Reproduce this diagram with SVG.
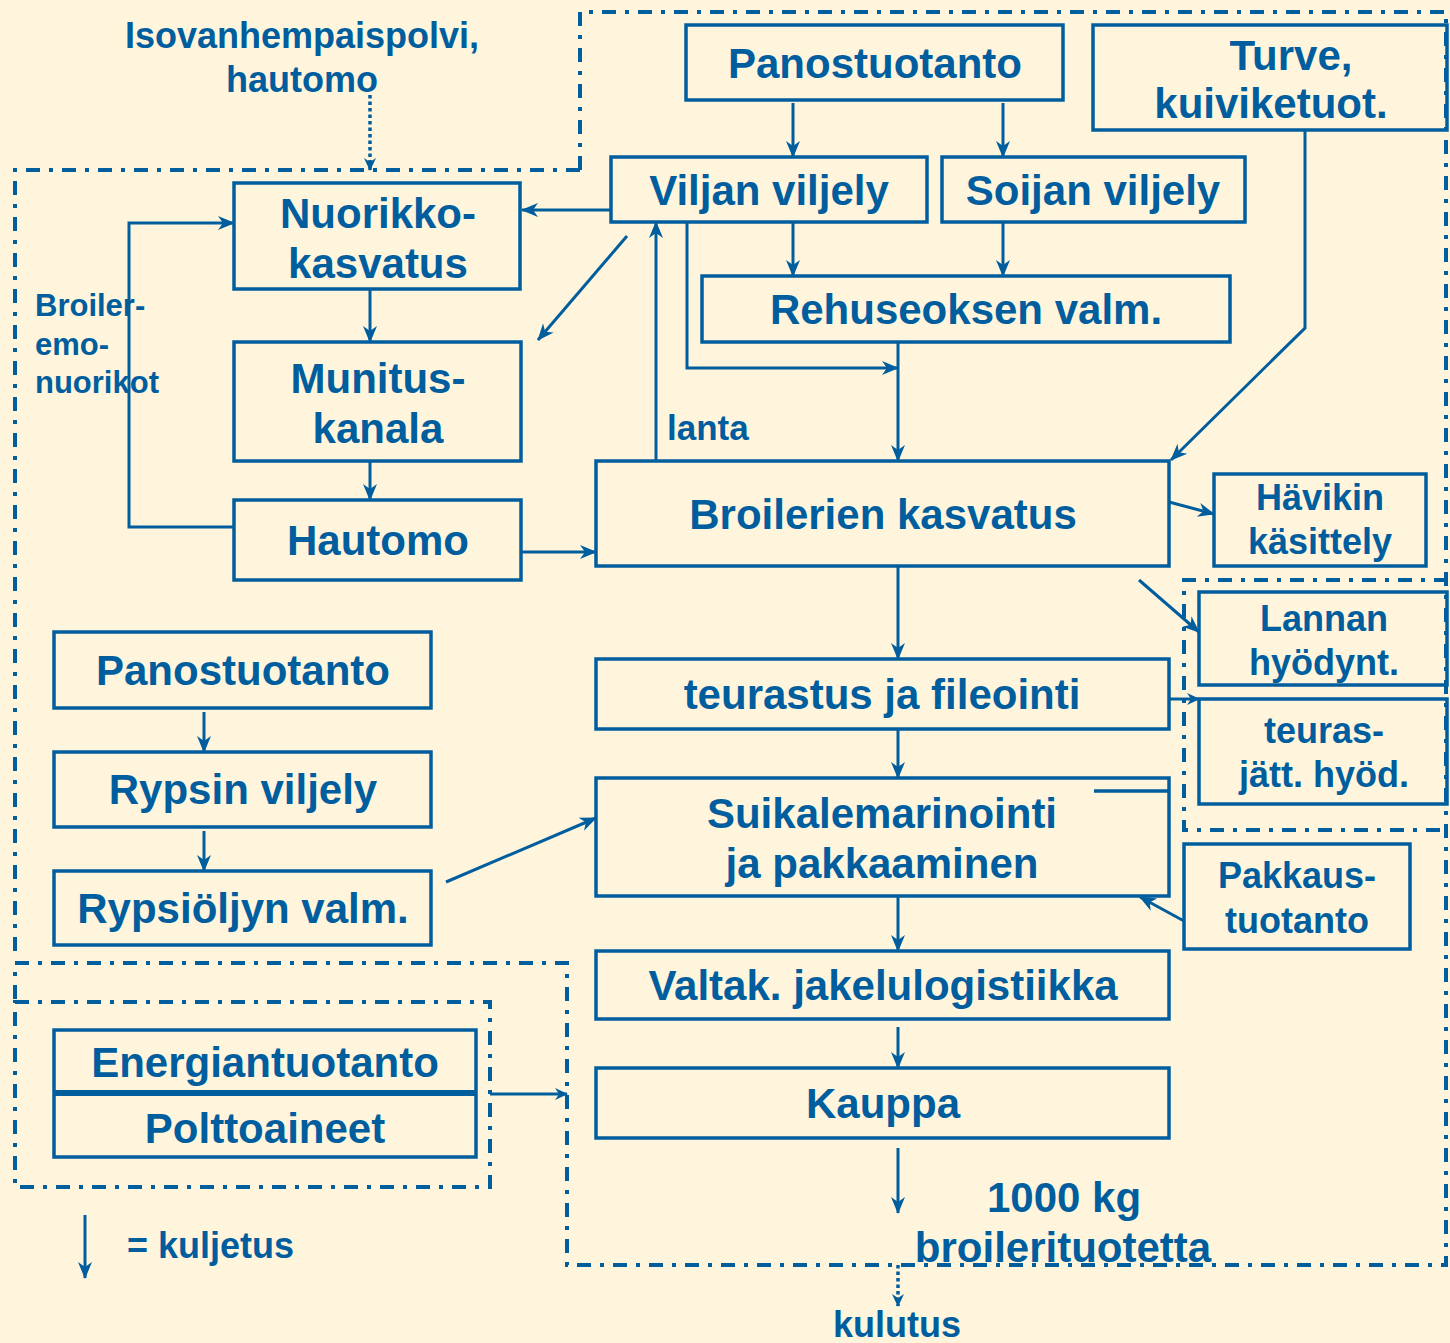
<svg xmlns="http://www.w3.org/2000/svg" width="1450" height="1343" viewBox="0 0 1450 1343">
<style>
.box{fill:none;stroke:#005E9E;stroke-width:3.5}
.t{font-family:"Liberation Sans",Arial,sans-serif;font-weight:bold;fill:#005E9E;text-anchor:middle;font-size:42px}
.s{font-size:36px}
.xs{font-size:31px;text-anchor:start}
.c{fill:none;stroke:#005E9E;stroke-width:3}
.d{fill:none;stroke:#005E9E;stroke-width:4;stroke-dasharray:14 9 4 9}
.dot{fill:none;stroke:#005E9E;stroke-width:3.5;stroke-dasharray:3.5 3}
</style>
<defs>
<marker id="a" markerUnits="userSpaceOnUse" markerWidth="18" markerHeight="16" refX="16" refY="8" orient="auto">
<path d="M0,1 L17,8 L0,15 L5,8 Z" fill="#005E9E"/>
</marker>
<marker id="s" markerUnits="userSpaceOnUse" markerWidth="14" markerHeight="14" refX="12" refY="7" orient="auto">
<path d="M0,1 L13,7 L0,13 L4,7 Z" fill="#005E9E"/>
</marker>
</defs>
<rect width="1450" height="1343" fill="#FFF5DC"/>

<g id="regions">
<path class="d" d="M580,170 L580,12 L1446,12 L1446,1265 L567,1265 L567,963 L15,963 L15,1002"/>
<path class="d" d="M580,170 L15,170 L15,955"/>
<rect class="d" x="15" y="1002" width="475" height="185"/>
<path class="d" d="M1448,580 L1184,580 L1184,830 L1448,830"/>
</g>

<g id="connectors">
<line class="c" x1="793" y1="103" x2="793" y2="157" marker-end="url(#a)"/>
<line class="c" x1="1003" y1="103" x2="1003" y2="157" marker-end="url(#a)"/>
<line class="c" x1="611" y1="210" x2="522" y2="210" marker-end="url(#a)"/>
<line class="c" x1="627" y1="236" x2="538" y2="340" marker-end="url(#a)"/>
<line class="c" x1="793" y1="222" x2="793" y2="276" marker-end="url(#a)"/>
<line class="c" x1="1003" y1="222" x2="1003" y2="276" marker-end="url(#a)"/>
<polyline class="c" points="687,222 687,368 898,368" marker-end="url(#a)"/>
<line class="c" x1="898" y1="342" x2="898" y2="461" marker-end="url(#a)"/>
<line class="c" x1="656" y1="461" x2="656" y2="222" marker-end="url(#a)"/>
<polyline class="c" points="1305,130 1305,328 1171,460" marker-end="url(#a)"/>
<line class="c" x1="370" y1="289" x2="370" y2="342" marker-end="url(#a)"/>
<line class="c" x1="370" y1="461" x2="370" y2="500" marker-end="url(#a)"/>
<polyline class="c" points="234,527 129,527 129,223 234,223" marker-end="url(#a)"/>
<line class="c" x1="521" y1="552" x2="596" y2="552" marker-end="url(#a)"/>
<line class="c" x1="1169" y1="502" x2="1214" y2="514" marker-end="url(#a)"/>
<line class="c" x1="1139" y1="580" x2="1199" y2="632" marker-end="url(#a)"/>
<line class="c" x1="898" y1="566" x2="898" y2="659" marker-end="url(#a)"/>
<line class="c" x1="1169" y1="699" x2="1199" y2="699" marker-end="url(#s)"/>
<line class="c" x1="898" y1="729" x2="898" y2="778" marker-end="url(#a)"/>
<line class="c" x1="446" y1="882" x2="596" y2="818" marker-end="url(#a)"/>
<line class="c" x1="1184" y1="921" x2="1140" y2="897" marker-end="url(#a)"/>
<line class="c" x1="898" y1="896" x2="898" y2="951" marker-end="url(#a)"/>
<line class="c" x1="898" y1="1027" x2="898" y2="1068" marker-end="url(#a)"/>
<line class="c" x1="898" y1="1148" x2="898" y2="1213" marker-end="url(#a)"/>
<line class="c" x1="490" y1="1094" x2="567" y2="1094" marker-end="url(#s)"/>
<line class="c" x1="204" y1="712" x2="204" y2="752" marker-end="url(#a)"/>
<line class="c" x1="204" y1="831" x2="204" y2="871" marker-end="url(#a)"/>
<line class="dot" x1="370" y1="95" x2="370" y2="170" marker-end="url(#s)"/>
<line class="dot" x1="898" y1="1265" x2="898" y2="1306" marker-end="url(#s)"/>
<line class="c" x1="85" y1="1215" x2="85" y2="1278" marker-end="url(#a)"/>
</g>

<g id="isovanhempaispolvi"><text class="t s" x="302" y="48">Isovanhempaispolvi,</text><text class="t s" x="302" y="92">hautomo</text></g>
<g id="panostuotanto1"><rect class="box" x="686" y="25" width="377" height="75"/><text class="t" x="875" y="78">Panostuotanto</text></g>
<g id="turve"><rect class="box" x="1093" y="25" width="354" height="105"/><text class="t" x="1291" y="70">Turve,</text><text class="t" x="1271" y="118">kuiviketuot.</text></g>
<g id="viljan"><rect class="box" x="611" y="157" width="316" height="65"/><text class="t" x="769" y="205">Viljan viljely</text></g>
<g id="soijan"><rect class="box" x="942" y="157" width="303" height="65"/><text class="t" x="1093" y="205">Soijan viljely</text></g>
<g id="rehuseoksen"><rect class="box" x="702" y="276" width="528" height="66"/><text class="t" x="966" y="324">Rehuseoksen valm.</text></g>
<g id="nuorikko"><rect class="box" x="234" y="183" width="286" height="106"/><text class="t" x="378" y="228">Nuorikko-</text><text class="t" x="378" y="278">kasvatus</text></g>
<g id="munitus"><rect class="box" x="234" y="342" width="287" height="119"/><text class="t" x="378" y="393">Munitus-</text><text class="t" x="378" y="443">kanala</text></g>
<g id="hautomo"><rect class="box" x="234" y="500" width="287" height="80"/><text class="t" x="378" y="555">Hautomo</text></g>
<g id="broiler-label"><text class="t xs" x="35" y="316">Broiler-</text><text class="t xs" x="35" y="355">emo-</text><text class="t xs" x="35" y="393">nuorikot</text></g>
<g id="lanta"><text class="t" x="667" y="440" style="font-size:35px;text-anchor:start">lanta</text></g>
<g id="broilerien"><rect class="box" x="596" y="461" width="573" height="105"/><text class="t" x="883" y="529">Broilerien kasvatus</text></g>
<g id="havikin"><rect class="box" x="1214" y="474" width="212" height="92"/><text class="t s" x="1320" y="510">Hävikin</text><text class="t s" x="1320" y="554">käsittely</text></g>
<g id="lannan"><rect class="box" x="1199" y="592" width="248" height="93"/><text class="t s" x="1324" y="631">Lannan</text><text class="t s" x="1324" y="675">hyödynt.</text></g>
<g id="teurasjatt"><rect class="box" x="1199" y="699" width="248" height="105"/><text class="t s" x="1324" y="743">teuras-</text><text class="t s" x="1324" y="787">jätt. hyöd.</text></g>
<g id="teurastus"><rect class="box" x="596" y="659" width="573" height="70"/><text class="t" x="882" y="709">teurastus ja fileointi</text></g>
<g id="suikale"><rect class="box" x="596" y="778" width="573" height="118"/><line class="box" x1="1094" y1="791" x2="1169" y2="791"/><text class="t" x="882" y="828">Suikalemarinointi</text><text class="t" x="882" y="878">ja pakkaaminen</text></g>
<g id="pakkaus"><rect class="box" x="1184" y="844" width="226" height="105"/><text class="t s" x="1297" y="888">Pakkaus-</text><text class="t s" x="1297" y="933">tuotanto</text></g>
<g id="valtak"><rect class="box" x="596" y="951" width="573" height="68"/><text class="t" x="883" y="1000">Valtak. jakelulogistiikka</text></g>
<g id="kauppa"><rect class="box" x="596" y="1068" width="573" height="70"/><text class="t" x="883" y="1118">Kauppa</text></g>
<g id="panostuotanto2"><rect class="box" x="54" y="632" width="377" height="76"/><text class="t" x="243" y="685">Panostuotanto</text></g>
<g id="rypsin"><rect class="box" x="54" y="752" width="377" height="75"/><text class="t" x="243" y="804">Rypsin viljely</text></g>
<g id="rypsioljyn"><rect class="box" x="54" y="871" width="377" height="74"/><text class="t" x="243" y="923">Rypsiöljyn valm.</text></g>
<g id="energia"><rect class="box" x="54" y="1030" width="422" height="127"/><line x1="54" y1="1093" x2="476" y2="1093" stroke="#005E9E" stroke-width="6"/><text class="t" x="265" y="1077">Energiantuotanto</text><text class="t" x="265" y="1143">Polttoaineet</text></g>
<g id="legend"><text class="t" x="127" y="1258" style="font-size:36px;text-anchor:start">= kuljetus</text></g>
<g id="result"><text class="t" x="1064" y="1212">1000 kg</text><text class="t" x="1063" y="1262">broilerituotetta</text></g>
<g id="kulutus"><text class="t s" x="897" y="1337">kulutus</text></g>
</svg>
